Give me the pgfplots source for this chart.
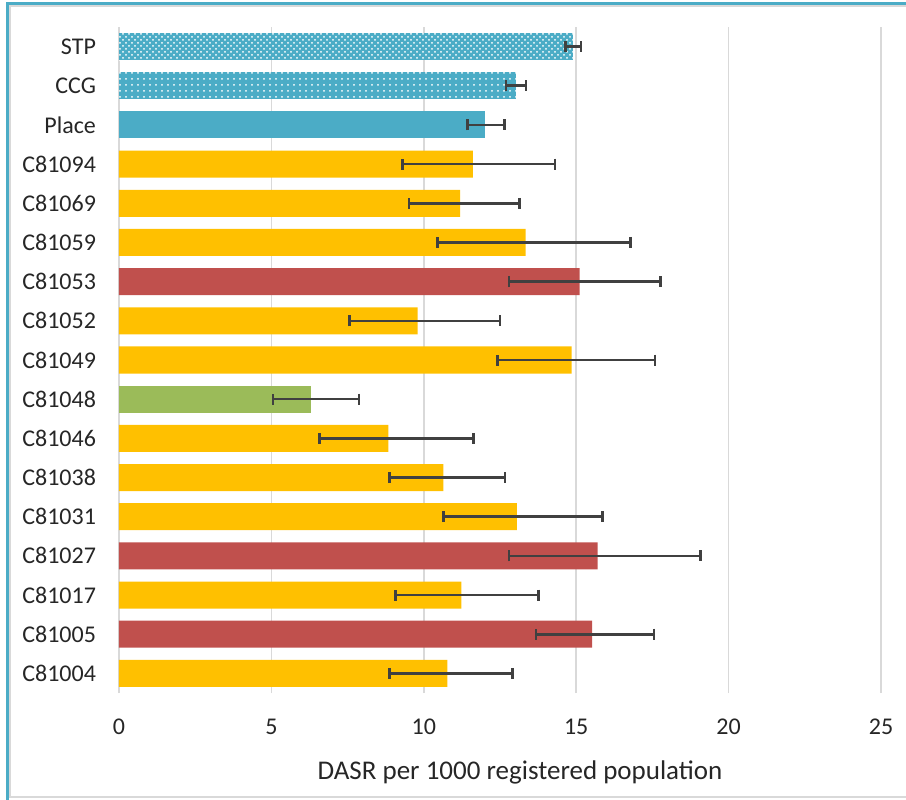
\documentclass[border=0pt]{standalone}
\usepackage{fontspec}
\setmainfont{Carlito}
\usepackage{pgfplots}
\pgfplotsset{compat=1.18}
\usepackage{pgfplotstable}
\usetikzlibrary{patterns}

\definecolor{amber}{HTML}{FFC000}
\definecolor{brick}{HTML}{C0504D}
\definecolor{leaf}{HTML}{9BBB59}
\definecolor{teal}{HTML}{4BACC6}
\definecolor{gridgray}{HTML}{D9D9D9}
\definecolor{errgray}{HTML}{404040}
\definecolor{textgray}{HTML}{262626}
\definecolor{framegray}{HTML}{D9D9D9}

% y = row (0 = bottom), x = rate, lo/hi = confidence limits
\pgfplotstableread{
y x lo hi
16 14.89 14.64 15.16
}\stptable
\pgfplotstableread{
y x lo hi
15 13.03 12.70 13.35
}\ccgtable
\pgfplotstableread{
y x lo hi
14 12.02 11.44 12.64
}\placetable
\pgfplotstableread{
y x lo hi
0 10.77 8.87 12.92
2 11.23 9.08 13.77
4 13.05 10.64 15.87
5 10.64 8.87 12.67
6 8.84 6.57 11.63
8 14.85 12.42 17.59
9 9.80 7.57 12.50
11 13.34 10.44 16.78
12 11.19 9.51 13.14
13 11.61 9.30 14.31
}\similartable
\pgfplotstableread{
y x lo hi
1 15.52 13.68 17.55
3 15.70 12.79 19.07
10 15.11 12.79 17.76
}\highertable
\pgfplotstableread{
y x lo hi
7 6.31 5.05 7.88
}\lowertable

\begin{document}
\begin{tikzpicture}
\useasboundingbox (0,0) rectangle (453pt,399.5pt);
% chart frame
\draw[framegray, line width=1pt] (4.75pt,1pt) rectangle (470pt,396.5pt);
\draw[teal, line width=1.5pt] (3.75pt,-5pt) -- (3.75pt,397.6pt) -- (470pt,397.6pt);

\begin{axis}[
  at={(59.5pt,53pt)}, anchor=south west,
  scale only axis, width=381pt, height=333pt,
  xmin=0, xmax=25, ymin=-0.5, ymax=16.5,
  xtick={0,5,...,25},
  ytick={0,...,16},
  yticklabels={C81004,C81005,C81017,C81027,C81031,C81038,C81046,C81048,C81049,C81052,C81053,C81059,C81069,C81094,Place,CCG,STP},
  xmajorgrids,
  major grid style={color=gridgray, line width=0.75pt},
  axis line style={draw=none},
  major tick length=0pt,
  tick label style={font=\fontsize{12}{14}\selectfont, text=textgray},
  /pgf/number format/assume math mode=true,
  xticklabel style={anchor=center, yshift=-17pt},
  yticklabel style={anchor=east, xshift=-8pt},
  xlabel={DASR per 1000 registered population},
  every axis x label/.style={at={(axis description cs:0.5,0)}, anchor=center,
    yshift=-39.5pt, xshift=10pt, font=\fontsize{13.5}{16}\selectfont, text=textgray},
  xbar, bar width=13.5pt, bar shift=0pt,
  error bars/x dir=both, error bars/x explicit,
  error bars/error bar style={color=errgray, line width=1.3pt},
  error bars/error mark options={color=errgray, line width=1.3pt, mark size=2.75pt, rotate=90},
]
\addplot[fill=teal, draw=none, postaction={pattern=crosshatch dots, pattern color=white}]
  table[x=x, y=y, x error plus expr=\thisrow{hi}-\thisrow{x}, x error minus expr=\thisrow{x}-\thisrow{lo}] {\stptable};
\addplot[fill=teal, draw=none, postaction={pattern=dots, pattern color=white}]
  table[x=x, y=y, x error plus expr=\thisrow{hi}-\thisrow{x}, x error minus expr=\thisrow{x}-\thisrow{lo}] {\ccgtable};
\addplot[fill=teal, draw=none]
  table[x=x, y=y, x error plus expr=\thisrow{hi}-\thisrow{x}, x error minus expr=\thisrow{x}-\thisrow{lo}] {\placetable};
\addplot[fill=amber, draw=none]
  table[x=x, y=y, x error plus expr=\thisrow{hi}-\thisrow{x}, x error minus expr=\thisrow{x}-\thisrow{lo}] {\similartable};
\addplot[fill=brick, draw=none]
  table[x=x, y=y, x error plus expr=\thisrow{hi}-\thisrow{x}, x error minus expr=\thisrow{x}-\thisrow{lo}] {\highertable};
\addplot[fill=leaf, draw=none]
  table[x=x, y=y, x error plus expr=\thisrow{hi}-\thisrow{x}, x error minus expr=\thisrow{x}-\thisrow{lo}] {\lowertable};
\end{axis}
\end{tikzpicture}
\end{document}
